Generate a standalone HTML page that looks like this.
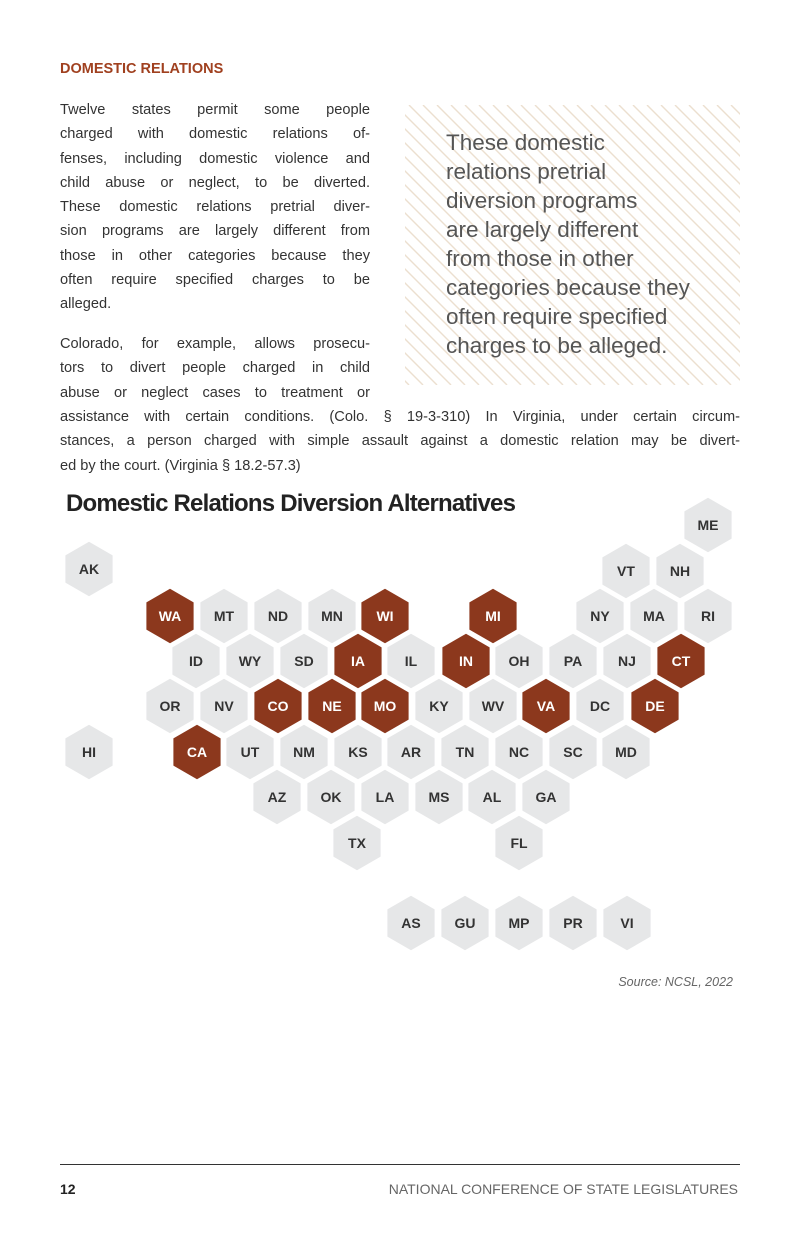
<!DOCTYPE html>
<html><head><meta charset="utf-8"><style>
body{margin:0;background:#fff;width:800px;height:1236px;position:relative;overflow:hidden;font-family:"Liberation Sans",sans-serif;}
.h{position:absolute;left:60px;top:61px;font-size:14.5px;font-weight:bold;color:#a0401f;}
.p{position:absolute;font-size:14.6px;color:#333;line-height:24.3px;}
.p div{text-align:justify;text-align-last:justify;white-space:nowrap;}
.p div.l{text-align-last:left;}
.q{position:absolute;left:446px;top:128px;font-size:22.5px;line-height:29px;color:#555;}
.t{position:absolute;left:66px;top:490px;font-size:24px;font-weight:bold;color:#222;letter-spacing:-0.8px;}
.src{position:absolute;right:67px;top:975px;font-size:12.5px;font-style:italic;color:#666;}
.rule{position:absolute;left:60px;top:1164px;width:680px;height:1px;background:#333;}
.pg{position:absolute;left:60px;top:1181px;font-size:14px;font-weight:bold;color:#222;}
.ft{position:absolute;right:62px;top:1181px;font-size:14px;color:#666;}
</style></head><body>
<svg width="800" height="1236" style="position:absolute;left:0;top:0">
<defs><clipPath id="cp"><rect x="405" y="105" width="335" height="280"/></clipPath></defs>
<g id="st" clip-path="url(#cp)" stroke="#ecdfcf" stroke-width="1.4"></g>
<g id="hx" font-family="Liberation Sans,sans-serif" font-weight="bold" font-size="14" text-anchor="middle"></g>
</svg>
<div class="h">DOMESTIC RELATIONS</div>
<div class="p" style="left:60px;top:98px;width:310px">
<div>Twelve states permit some people</div>
<div>charged with domestic relations of-</div>
<div>fenses, including domestic violence and</div>
<div>child abuse or neglect, to be diverted.</div>
<div>These domestic relations pretrial diver-</div>
<div>sion programs are largely different from</div>
<div>those in other categories because they</div>
<div>often require specified charges to be</div>
<div class="l">alleged.</div>
</div>
<div class="p" style="left:60px;top:332px;width:310px">
<div>Colorado, for example, allows prosecu-</div>
<div>tors to divert people charged in child</div>
<div>abuse or neglect cases to treatment or</div>
</div>
<div class="p" style="left:60px;top:405px;width:680px">
<div>assistance with certain conditions. (Colo. § 19-3-310) In Virginia, under certain circum-</div>
<div>stances, a person charged with simple assault against a domestic relation may be divert-</div>
<div class="l">ed by the court. (Virginia § 18.2-57.3)</div>
</div>
<div class="q">These domestic<br>relations pretrial<br>diversion programs<br>are largely different<br>from those in other<br>categories because they<br>often require specified<br>charges to be alleged.</div>
<div class="t">Domestic Relations Diversion Alternatives</div>
<div class="src">Source: NCSL, 2022</div>
<div class="rule"></div>
<div class="pg">12</div>
<div class="ft">NATIONAL CONFERENCE OF STATE LEGISLATURES</div>
<script>
var l="";for(var x=405-290;x<745;x+=14){l+='<line x1="'+x+'" y1="105" x2="'+(x+280)+'" y2="385"/>';}
document.getElementById("st").innerHTML=l;
var D=[["ME",708,526],["AK",89,570],["VT",626,572],["NH",680,572],
["WA",170,617,1],["MT",224,617],["ND",278,617],["MN",332,617],["WI",385,617,1],["MI",493,617,1],["NY",600,617],["MA",654,617],["RI",708,617],
["ID",196,662],["WY",250,662],["SD",304,662],["IA",358,662,1],["IL",411,662],["IN",466,662,1],["OH",519,662],["PA",573,662],["NJ",627,662],["CT",681,662,1],
["OR",170,707],["NV",224,707],["CO",278,707,1],["NE",332,707,1],["MO",385,707,1],["KY",439,707],["WV",493,707],["VA",546,707,1],["DC",600,707],["DE",655,707,1],
["HI",89,753],["CA",197,753,1],["UT",250,753],["NM",304,753],["KS",358,753],["AR",411,753],["TN",465,753],["NC",519,753],["SC",573,753],["MD",626,753],
["AZ",277,798],["OK",331,798],["LA",385,798],["MS",439,798],["AL",492,798],["GA",546,798],
["TX",357,844],["FL",519,844],
["AS",411,924],["GU",465,924],["MP",519,924],["PR",573,924],["VI",627,924]];
var s="",R=27.3;
D.forEach(function(d){var x=d[1],y=d[2]-1,p=[];for(var i=0;i<6;i++){var a=Math.PI/180*(60*i-90);p.push((x+R*Math.cos(a)).toFixed(1)+","+(y+R*Math.sin(a)).toFixed(1));}
s+='<polygon points="'+p.join(" ")+'" fill="'+(d[3]?"#8c381d":"#e6e7e8")+'"/><text x="'+x+'" y="'+(y+5)+'" fill="'+(d[3]?"#fff":"#333")+'">'+d[0]+'</text>';});
document.getElementById("hx").innerHTML=s;
</script>
</body></html>
